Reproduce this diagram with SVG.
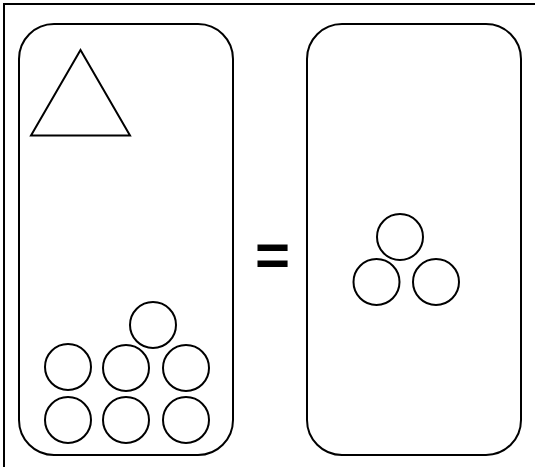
<svg xmlns="http://www.w3.org/2000/svg" width="535" height="467" viewBox="0 0 535 467">
<style>
.s{fill:none;stroke:#000;stroke-width:2}
.eq{font-family:"Liberation Sans",Arial,sans-serif;font-weight:bold;font-size:60px;fill:#000}
</style>
<rect x="0" y="0" width="535" height="467" fill="#fff"/>
<rect id="frame" class="s" x="4" y="4" width="560" height="500"/>
<g id="left">
<rect class="s" x="19" y="24" width="214" height="431" rx="35" ry="35"/>
<polygon id="triangle" class="s" points="80.5,50 31,135.5 130,135.5"/>
<circle class="s" cx="153" cy="325" r="23"/>
<circle class="s" cx="68" cy="367" r="23"/>
<circle class="s" cx="126" cy="368" r="23"/>
<circle class="s" cx="186" cy="368" r="23"/>
<circle class="s" cx="68" cy="420" r="23"/>
<circle class="s" cx="126" cy="420" r="23"/>
<circle class="s" cx="186" cy="420" r="23"/>
</g>
<g id="equals">
<text class="eq" x="272.5" y="275" text-anchor="middle">=</text>
</g>
<g id="right">
<rect class="s" x="307" y="24" width="214" height="431" rx="35" ry="35"/>
<circle class="s" cx="400" cy="237" r="23"/>
<circle class="s" cx="376.5" cy="282" r="23"/>
<circle class="s" cx="436" cy="282" r="23"/>
</g>
<g id="connectors"/>
</svg>
